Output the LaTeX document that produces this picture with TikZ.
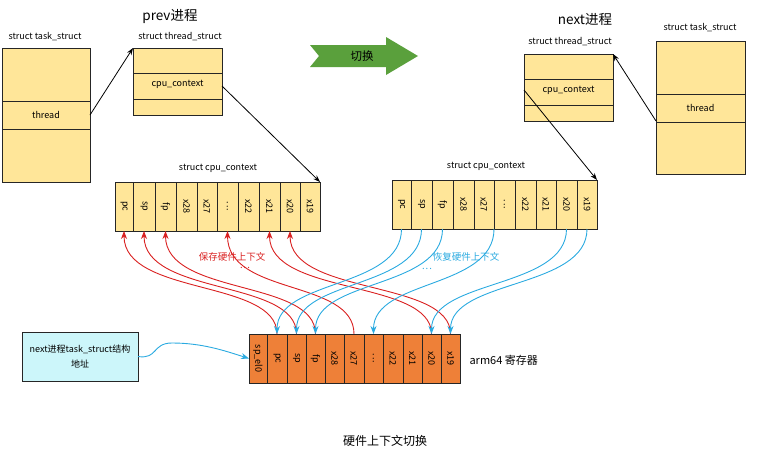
\documentclass[tikz,border=0pt]{standalone}
\usepackage{fontspec}
\setmainfont{Noto Sans CJK SC}
\usetikzlibrary{arrows.meta}
\definecolor{yel}{HTML}{FFE699}
\definecolor{org}{HTML}{EE8038}
\definecolor{cyb}{HTML}{CCF6FA}
\definecolor{rd}{HTML}{D92020}
\definecolor{bl}{HTML}{2AAAE0}
\definecolor{gr}{HTML}{5AA03C}
\newcommand{\mydd}{.\kern1pt.\kern1pt.}
\begin{document}
\begin{tikzpicture}[x=1pt,y=-1pt,
  box/.style={draw=black!85,line width=0.8pt,inner sep=0pt,outer sep=0pt},
  lab/.style={font=\fontsize{9}{10}\selectfont,inner sep=1pt},
  big/.style={font=\fontsize{13.5}{15}\selectfont},
  blk/.style={-{Stealth[length=7pt,width=5pt]},line width=0.8pt},
  ra/.style={rd,line width=0.9pt,-{Stealth[length=8pt,width=6pt]}},
  ba/.style={bl,line width=0.9pt,-{Stealth[length=8pt,width=6pt]}}]
\useasboundingbox (0,0) rectangle (760,455);
% prev
\node[big] (prevt) at (170,16) {prev进程};
\node[lab] (ptl) at (45,37) {struct task\_struct};
\node[lab] (pthl) at (180,37) {struct thread\_struct};
\node[box,fill=yel,minimum width=88pt,minimum height=134pt] (ptask) at (46,115) {};
\draw[black!85,line width=0.8pt] (2,101) -- (90,101) (2,129) -- (90,129);
\node[lab] (pthread) at (46,115) {thread};
\node[box,fill=yel,minimum width=89pt,minimum height=67pt] (pth) at (177.5,81.5) {};
\draw[black!85,line width=0.8pt] (133,73) -- (222,73) (133,99) -- (222,99);
\node[lab] (pcc) at (177.5,84) {cpu\_context};
\coordinate (pthR) at (90,115);
\coordinate (pccR) at (222,86);
\draw[blk] (pthR) -- (pth.north west);
% next
\node[big] (nextt) at (585,19) {next进程};
\node[lab] (ntl) at (700,28) {struct task\_struct};
\node[lab] (nthl) at (570,42) {struct thread\_struct};
\node[box,fill=yel,minimum width=89pt,minimum height=133pt] (ntask) at (700.5,107.5) {};
\draw[black!85,line width=0.8pt] (656,94) -- (745,94) (656,122) -- (745,122);
\node[lab] (nthread) at (700.5,108) {thread};
\node[box,fill=yel,minimum width=89pt,minimum height=67pt] (nth) at (568.5,87.5) {};
\draw[black!85,line width=0.8pt] (524,79) -- (613,79) (524,105) -- (613,105);
\node[lab] (ncc) at (568.5,90) {cpu\_context};
\coordinate (ntL) at (656,121);
\coordinate (nccL) at (524,90);
\draw[blk] (ntL) -- (nth.north east);
% switch arrow
\fill[gr] (310,45) -- (386,45) -- (386,37) -- (418,56) -- (386,75) -- (386,67) -- (310,67) -- (319,56) -- cycle;
\node[font=\fontsize{11.5}{13}\selectfont] (sw) at (362,56) {切换};
% prev cpu_context
\node[lab] (pccl) at (218,168) {struct cpu\_context};
\foreach \a/\b/\t [count=\i] in {115/133/pc,133/155/sp,155/176/fp,176/197/x28,197/217/x27,217/238/\mydd,238/259/x22,259/280/x21,280/300/x20,300/320/x19}{
  \pgfmathsetmacro\w{\b-\a}\pgfmathsetmacro\m{(\a+\b)/2}
  \node[box,fill=yel,minimum width=\w pt,minimum height=49pt] (p\i) at (\m,206.5) {};
  \node[lab,rotate=-90] (pt\i) at (\m,206.5) {\t};
}
\draw[blk] (pccR) -- (p10.north east);
% next cpu_context
\node[lab] (nccl) at (486,166) {struct cpu\_context};
\foreach \a/\b/\t [count=\i] in {392/411/pc,411/432/sp,432/453/fp,453/474/x28,474/494/x27,494/515/\mydd,515/536/x22,536/556/x21,556/577/x20,577/597/x19}{
  \pgfmathsetmacro\w{\b-\a}\pgfmathsetmacro\m{(\a+\b)/2}
  \node[box,fill=yel,minimum width=\w pt,minimum height=49pt] (n\i) at (\m,204.5) {};
  \node[lab,rotate=-90] (nt\i) at (\m,204.5) {\t};
}
\draw[blk] (nccL) -- (n10.north east);
% arm64
\foreach \a/\b/\t [count=\i] in {249/267/sp\_el0,267/287/pc,287/306/sp,306/325/fp,325/344/x28,344/364/x27,364/383/\mydd,383/403/x22,403/422/x21,422/441/x20,441/460/x19}{
  \pgfmathsetmacro\w{\b-\a}\pgfmathsetmacro\m{(\a+\b)/2}
  \node[box,fill=org,minimum width=\w pt,minimum height=49pt] (a\i) at (\m,358.5) {};
  \node[lab,rotate=-90] (at\i) at (\m,358.5) {\t};
}
\node[font=\fontsize{11}{13}\selectfont,anchor=west] (arml) at (466,360) {arm64 寄存器};
\node[box,fill=cyb,minimum width=116pt,minimum height=49pt,align=center,font=\fontsize{9}{15}\selectfont] (addr) at (80,356.5) {next进程task\_struct结构\\地址};
\draw[ba] (addr.east) .. controls +(20,3) and +(-20,0) .. (172,343) .. controls +(30,0) and +(-25,-8) .. (a1.west);
% red arrows
\draw[ra] (a2.north) .. controls +(0,-55) and +(0,65) .. (p1.south);
\draw[ra] (a3.north) .. controls +(0,-55) and +(0,65) .. (p2.south);
\draw[ra] (a4.north) .. controls +(0,-55) and +(0,65) .. (p3.south);
\draw[ra] (a6.north) .. controls +(0,-55) and +(0,65) .. (p6.south);
\draw[ra] (a10.north) .. controls +(0,-55) and +(0,65) .. (p8.south);
\draw[ra] (a11.north) .. controls +(0,-55) and +(0,65) .. (p9.south);
\node[rd,font=\fontsize{9.5}{11}\selectfont] (save) at (232,257) {保存硬件上下文};
\node[rd,font=\fontsize{9.5}{11}\selectfont] (sdots) at (245,268) {\mydd};
% blue arrows
\draw[ba] (n1.south) .. controls +(0,60) and +(0,-55) .. (a2.north);
\draw[ba] (n2.south) .. controls +(0,60) and +(0,-55) .. (a3.north);
\draw[ba] (n3.south) .. controls +(0,60) and +(0,-55) .. (a4.north);
\draw[ba] (n5.south east) .. controls +(0,60) and +(0,-55) .. (a7.north);
\draw[ba] (n9.south) .. controls +(0,60) and +(0,-55) .. (a10.north);
\draw[ba] (n10.south) .. controls +(0,60) and +(0,-55) .. (a11.north);
\node[bl,font=\fontsize{9.5}{11}\selectfont] (rest) at (466,257) {恢复硬件上下文};
\node[bl,font=\fontsize{9.5}{11}\selectfont] (rdots) at (427,269) {\mydd};
\node[font=\fontsize{12}{14}\selectfont] (title) at (385,441) {硬件上下文切换};
\end{tikzpicture}
\end{document}
